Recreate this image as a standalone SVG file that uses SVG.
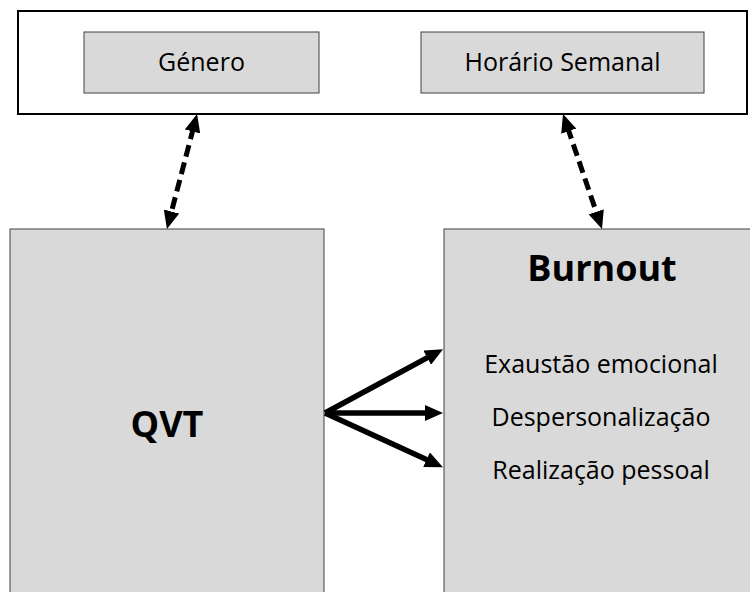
<svg xmlns="http://www.w3.org/2000/svg" width="750" height="592" viewBox="0 0 750 592">
<style>
.gbox{fill:#d9d9d9;stroke:#404040;stroke-width:1}
.t{font-family:"Open Sans","Liberation Sans",sans-serif;font-size:25px;fill:#000;text-anchor:middle}
.tb{font-family:"Open Sans","Liberation Sans",sans-serif;font-size:36px;font-weight:bold;fill:#000;text-anchor:middle}
.solid{stroke:#000;stroke-width:5.5;fill:none;marker-end:url(#ah)}
.dash{stroke:#000;stroke-width:5;fill:none;stroke-dasharray:12 6;marker-start:url(#ah);marker-end:url(#ah)}
</style>
<defs>
<marker id="ah" markerUnits="userSpaceOnUse" markerWidth="18" markerHeight="16" refX="4" refY="8" orient="auto-start-reverse">
<path d="M0,0 L18,8 L0,16 z" fill="#000"/>
</marker>
</defs>
<rect width="750" height="592" fill="#fff"/>
<g id="context">
<rect x="18" y="11" width="729" height="103" fill="#fff" stroke="#000" stroke-width="2"/>
</g>
<g id="genero">
<rect class="gbox" x="84" y="32" width="235" height="61"/>
<text class="t" x="201.5" y="71">Género</text>
</g>
<g id="horario">
<rect class="gbox" x="421" y="32" width="283" height="61"/>
<text class="t" x="562.5" y="71">Horário Semanal</text>
</g>
<g id="qvt">
<rect class="gbox" x="10" y="229" width="314" height="380"/>
<text class="tb" x="167" y="437">QVT</text>
</g>
<g id="burnout">
<rect class="gbox" x="444" y="229" width="320" height="380"/>
<text class="tb" x="602" y="281">Burnout</text>
<text class="t" x="601" y="373">Exaustão emocional</text>
<text class="t" x="601" y="426">Despersonalização</text>
<text class="t" x="601" y="479">Realização pessoal</text>
</g>
<g id="connectors">
<line class="dash" x1="193.5" y1="127.6" x2="170.5" y2="215.4"/>
<line class="dash" x1="567.5" y1="127.3" x2="597.5" y2="215.7"/>
<line class="solid" x1="325" y1="413" x2="430.7" y2="355.8"/>
<line class="solid" x1="325" y1="413" x2="429" y2="413"/>
<line class="solid" x1="325" y1="413" x2="430.2" y2="461.3"/>
</g>
</svg>
